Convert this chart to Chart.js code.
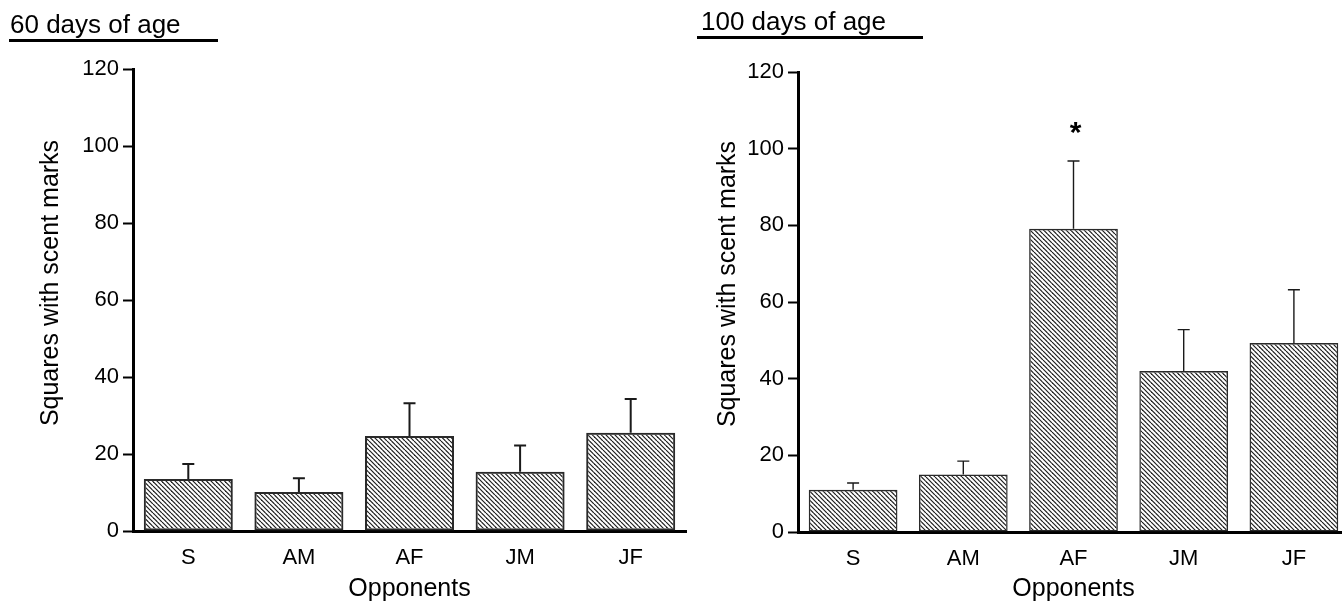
<!DOCTYPE html>
<html>
<head>
<meta charset="utf-8">
<script src="https://cdn.jsdelivr.net/npm/chart.js@4.4.1/dist/chart.umd.min.js"></script>
<style>
  html, body { margin: 0; padding: 0; background: #fff; overflow: hidden; width: 1342px; height: 605px; }
  .wrap { position: absolute; top: 0; width: 700px; height: 605px; }
  .head { position: absolute; font: 26px 'Liberation Sans', Arial, sans-serif; color: #000;
          line-height: 28px; border-bottom: 3px solid #000; padding-bottom: 1px; white-space: nowrap; }
</style>
</head>
<body>
<div class="wrap" style="left:0px"><canvas id="c60" width="700" height="605"></canvas></div>
<div class="wrap" style="left:665px"><canvas id="c100" width="700" height="605"></canvas></div>
<div class="head" style="left:9px; top:10px; width:208px; padding-left:1px;">60 days of age</div>
<div class="head" style="left:697px; top:7px; width:222px; padding-left:4px;">100 days of age</div>
<script>
// data (mean and SEM error bar per opponent type)
const categories = ['S', 'AM', 'AF', 'JM', 'JF'];
const mean60 = [13.5, 10.1, 24.7, 15.4, 25.5];
const sem60 = [3.9, 3.6, 8.5, 6.8, 8.8];
const mean100 = [11.0, 15.0, 79.1, 42.0, 49.3];
const sem100 = [1.8, 3.5, 17.7, 10.8, 13.9];
const marks60 = ['', '', '', '', ''];
const marks100 = ['', '', '*', '', ''];
const yTicks = [0, 20, 40, 60, 80, 100, 120];

const FONT = "'Liberation Sans', Arial, sans-serif";

// diagonal hatch like the printed figure
function hatch() {
  const c = document.createElement('canvas');
  c.width = 9; c.height = 9;
  const g = c.getContext('2d');
  g.strokeStyle = '#1e1e1e';
  g.lineWidth = 1.2;
  for (let k = -9; k <= 9; k += 4.5) {
    g.beginPath();
    g.moveTo(k, 0);
    g.lineTo(k + 9, 9);
    g.stroke();
  }
  return g.createPattern(c, 'repeat');
}

// upper error bars + significance marks
const errorBars = {
  id: 'errorBars',
  afterDatasetsDraw(chart, args, o) {
    const ctx = chart.ctx;
    const x = chart.scales.x, y = chart.scales.y;
    const ds = chart.data.datasets[0];
    ctx.save();
    ctx.strokeStyle = '#1a1a1a';
    ctx.lineWidth = o.lineWidth;
    ds.data.forEach((v, i) => {
      const px = x.getPixelForValue(i);
      const top = y.getPixelForValue(v + ds.sem[i]);
      const base = y.getPixelForValue(v);
      ctx.beginPath();
      ctx.moveTo(px, base);
      ctx.lineTo(px, top);
      ctx.moveTo(px - 6, top);
      ctx.lineTo(px + 6, top);
      ctx.stroke();
      if (ds.marks[i]) {
        ctx.fillStyle = '#000';
        ctx.font = 'bold 30px ' + FONT;
        ctx.textAlign = 'center';
        ctx.textBaseline = 'alphabetic';
        ctx.fillText(ds.marks[i], px + 2, top - 19);
      }
    });
    ctx.restore();
  }
};

// y axis title, placed like the original (not centred on the axis)
const sideTitle = {
  id: 'sideTitle',
  afterDraw(chart, args, o) {
    const ctx = chart.ctx;
    ctx.save();
    ctx.translate(o.x, o.y);
    ctx.rotate(-Math.PI / 2);
    ctx.font = '25px ' + FONT;
    ctx.fillStyle = '#000';
    ctx.textAlign = 'center';
    ctx.textBaseline = 'middle';
    ctx.fillText(o.text, 0, 0);
    ctx.restore();
  }
};

function makeChart(id, means, sems, marks, s) {
  return new Chart(document.getElementById(id), {
    type: 'bar',
    data: {
      labels: categories,
      datasets: [{
        data: means,
        sem: sems,
        marks: marks,
        backgroundColor: hatch(),
        borderColor: '#2a2a2a',
        borderWidth: s.line,
        borderSkipped: false,
        categoryPercentage: 1,
        barPercentage: 0.805
      }]
    },
    options: {
      responsive: false,
      animation: false,
      layout: { padding: { left: 0, top: s.top, right: s.right, bottom: 0 } },
      plugins: {
        legend: { display: false },
        tooltip: { enabled: false },
        errorBars: { lineWidth: s.line },
        sideTitle: { text: 'Squares with scent marks', x: s.titleX, y: s.titleY }
      },
      scales: {
        x: {
          grid: { display: false, drawTicks: false },
          border: { display: true, width: 3, color: '#000' },
          ticks: { padding: 14, color: '#000', font: { family: FONT, size: 22 } },
          title: { display: true, text: 'Opponents', color: '#000',
                   font: { family: FONT, size: 25 }, padding: { top: 0, bottom: 1 } },
          afterFit: sc => { sc.height = 605 - s.bottom; }
        },
        y: {
          min: 0,
          max: 120,
          afterBuildTicks: sc => { sc.ticks = yTicks.map(v => ({ value: v })); },
          grid: { drawOnChartArea: false, drawTicks: true, tickLength: 10, tickWidth: 2, tickColor: '#000' },
          border: { display: true, width: 3, color: '#000' },
          ticks: { padding: 4, color: '#000', font: { family: FONT, size: 22 } },
          afterFit: sc => { sc.width = 133; }
        }
      }
    },
    plugins: [errorBars, sideTitle]
  });
}

makeChart('c60', mean60, sem60, marks60, { top: 69, bottom: 531, right: 14, line: 2, titleX: 51.5, titleY: 283 });
makeChart('c100', mean100, sem100, marks100, { top: 72, bottom: 532, right: 16, line: 1.4, titleX: 63.5, titleY: 284 });
</script>
</body>
</html>
